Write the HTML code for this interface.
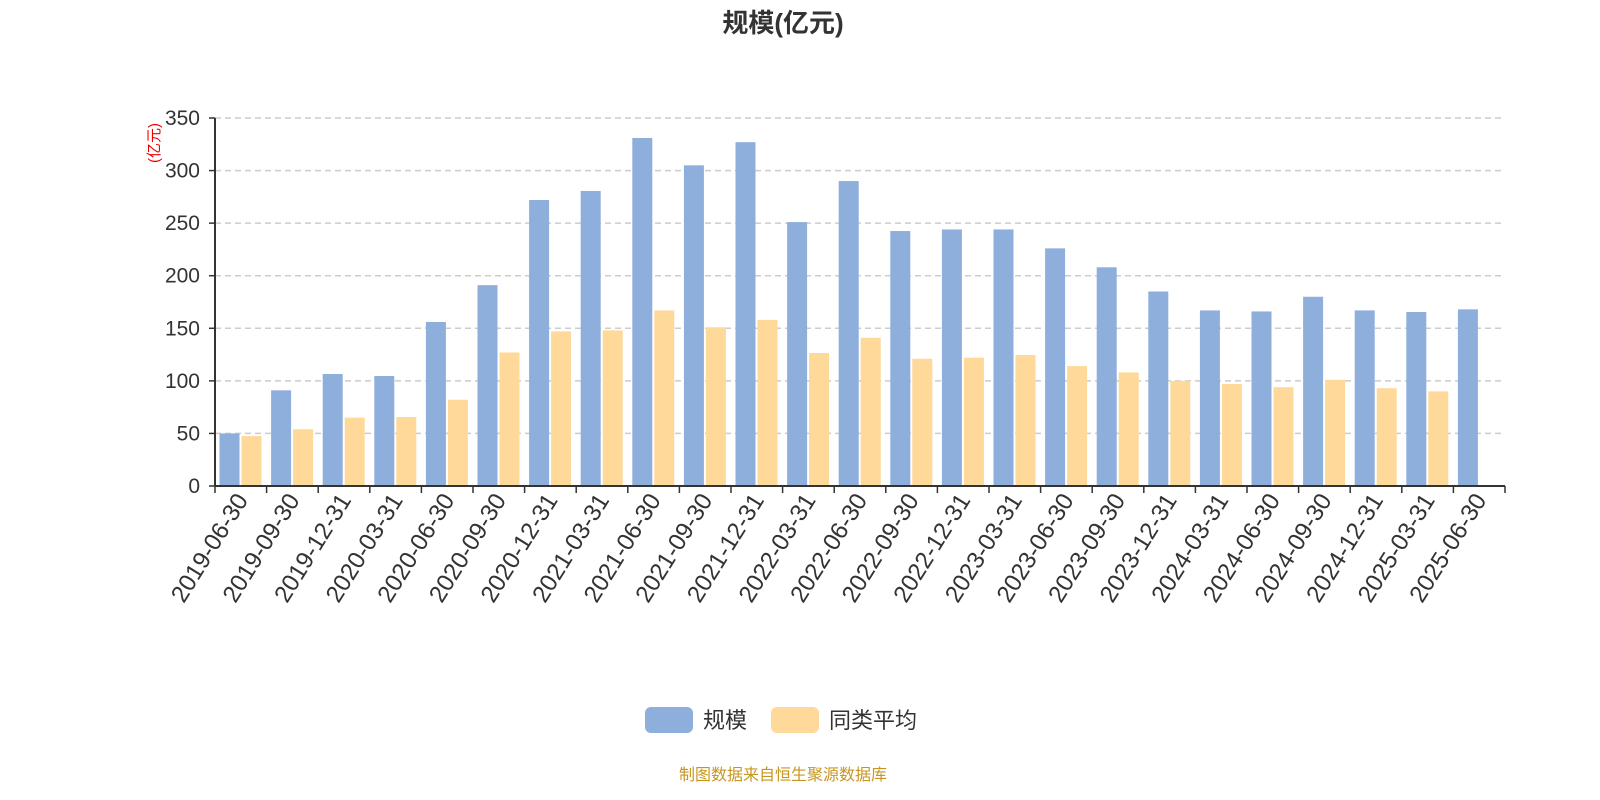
<!DOCTYPE html>
<html><head><meta charset="utf-8"><style>
body{margin:0;background:#fff;}
svg{display:block;font-family:"Liberation Sans","Noto Sans CJK SC",sans-serif;}
</style></head><body>
<svg id="chart" width="1600" height="800" viewBox="0 0 1600 800">
<text x="783" y="32" text-anchor="middle" font-size="26" font-weight="bold" fill="#333">规模(亿元)</text>
<text transform="translate(159,143) rotate(-90)" text-anchor="middle" font-size="15" fill="#e00">(亿元)</text>
<g id="grid"></g>
<g id="bars"></g>
<g id="axes"></g>
<g>
<rect x="645" y="707" width="48" height="26" rx="6" fill="#8eaedb"/>
<text x="703" y="728" font-size="22" fill="#333">规模</text>
<rect x="771" y="707" width="48" height="26" rx="6" fill="#ffd999"/>
<text x="829" y="728" font-size="22" fill="#333">同类平均</text>
</g>
<text x="783" y="780" text-anchor="middle" font-size="16" fill="#c8961e">制图数据来自恒生聚源数据库</text>
</svg>
<script>
const categories=["2019-06-30","2019-09-30","2019-12-31","2020-03-31","2020-06-30","2020-09-30","2020-12-31","2021-03-31","2021-06-30","2021-09-30","2021-12-31","2022-03-31","2022-06-30","2022-09-30","2022-12-31","2023-03-31","2023-06-30","2023-09-30","2023-12-31","2024-03-31","2024-06-30","2024-09-30","2024-12-31","2025-03-31","2025-06-30"];
const scaleValues=[50,91,106.5,104.6,156,191,272,280.6,331,305,327,251,290,242.5,244,244,226,208,185,167,166,180,167,165.5,168];
const avgValues=[47.5,54,65,65.6,82,127,147,148,167,151,158,126.5,141,121,122,124.6,114,108,100,97,94,101,93,90,null];
const yTicks=[0,50,100,150,200,250,300,350];
const NS="http://www.w3.org/2000/svg";
const x0=215,x1=1505,y0=486,yTop=118,yMax=350;
const band=(x1-x0)/categories.length;
const y=v=>y0-(v/yMax)*(y0-yTop);
const bx=i=>x0+i*band;
function mk(tag,attrs,parent){const e=document.createElementNS(NS,tag);for(const k in attrs)e.setAttribute(k,attrs[k]);parent.appendChild(e);return e;}
const grid=document.getElementById('grid'),bars=document.getElementById('bars'),axes=document.getElementById('axes');
yTicks.forEach(t=>{
 if(t>0){const l=mk('line',{x1:x0,x2:x1,y1:y(t),y2:y(t),stroke:'#ccc','stroke-width':1.5,'stroke-dasharray':'6,4'},grid);
 
 }
 const tx=mk('text',{x:200,y:y(t)+7,'text-anchor':'end','font-size':21,fill:'#333'},axes);
 tx.textContent=t;
 
 
 const tk=mk('line',{x1:x0-6,x2:x0,y1:y(t),y2:y(t),stroke:'#333','stroke-width':1.5},axes);
 
 
});
const bw=20;
categories.forEach((c,i)=>{
 const s=scaleValues[i];
 if(s!=null){const r=mk('rect',{x:bx(i)+4.5,y:y(s),width:bw,height:y0-y(s),fill:'#8eaedb'},bars);
 
 }
 const a=avgValues[i];
 if(a!=null){const r=mk('rect',{x:bx(i)+26.5,y:y(a),width:bw,height:y0-y(a),fill:'#ffd999'},bars);
 
 }
 const tk=mk('line',{x1:bx(i),x2:bx(i),y1:y0,y2:y0+7,stroke:'#333','stroke-width':1.5},axes);
 
 
 const cx=bx(i)+band/2;
 const tx=mk('text',{transform:`translate(${cx+8},${y0+14}) rotate(-58)`,'text-anchor':'end','font-size':24,fill:'#333'},axes);
 tx.textContent=c;
 
 
});
const lt=mk('line',{x1:x1,x2:x1,y1:y0,y2:y0+7,stroke:'#333','stroke-width':1.5},axes);


const xa=mk('line',{x1:x0,x2:x1,y1:y0,y2:y0,stroke:'#333','stroke-width':2},axes);


const ya=mk('line',{x1:x0,x2:x0,y1:yTop,y2:y0,stroke:'#333','stroke-width':2},axes);


</script>
</body></html>
